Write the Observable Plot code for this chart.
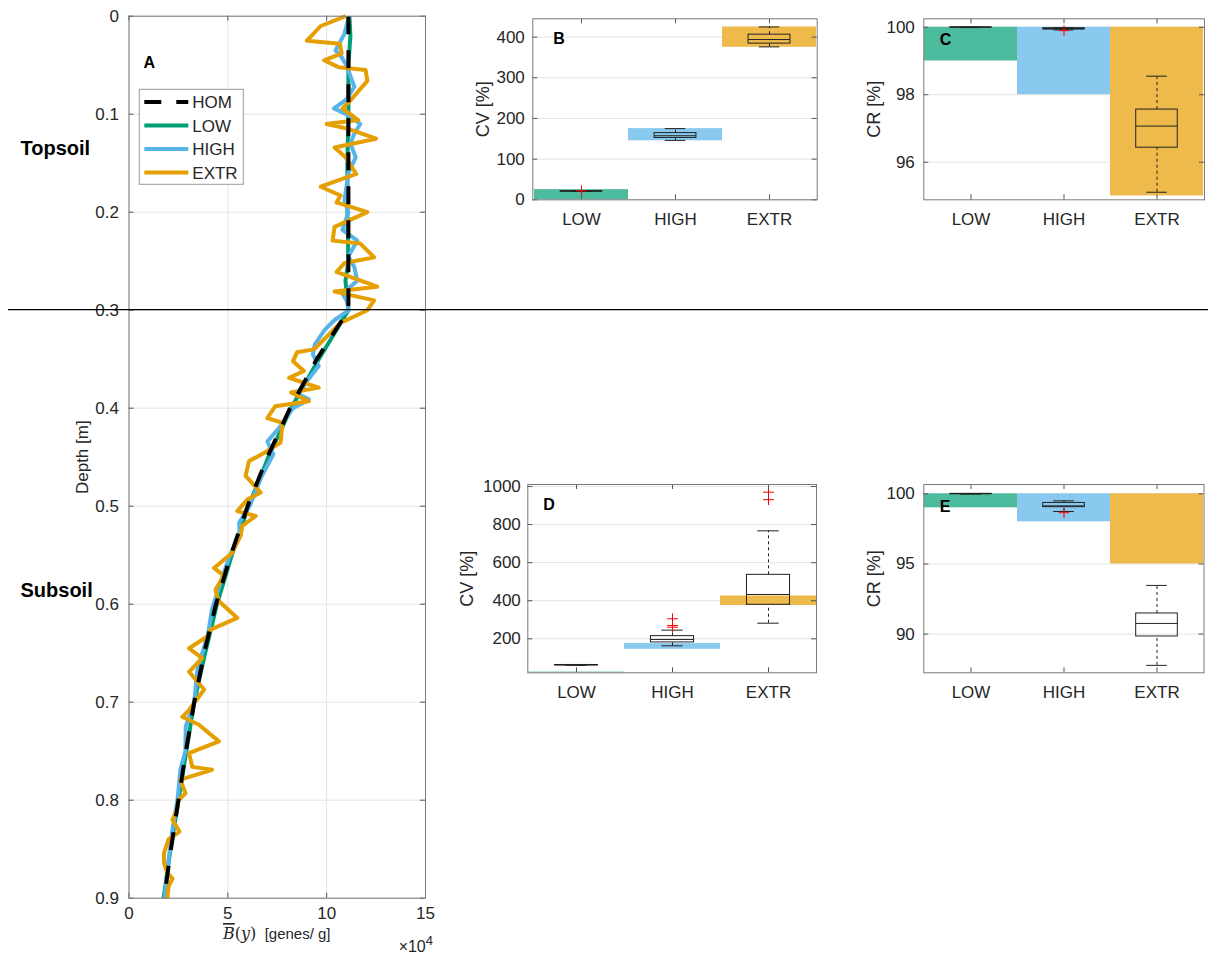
<!DOCTYPE html>
<html>
<head>
<meta charset="utf-8">
<script src="https://cdn.jsdelivr.net/npm/d3@7"></script>
<script src="https://cdn.jsdelivr.net/npm/@observablehq/plot@0.6"></script>
<style>
  body { margin: 0; background: #fff; }
  #fig { position: relative; width: 1208px; height: 956px; background: #fff; overflow: hidden;
         font-family: "Liberation Sans", Arial, Helvetica, sans-serif; }
  .panel { position: absolute; }
  .panel svg { overflow: visible; }
</style>
</head>
<body>
<div id="fig"></div>
<script>
// ---------------- DATA ----------------
const categories = ["LOW", "HIGH", "EXTR"];
const bandColors = ["#4DBB9E", "#89C9EF", "#EDBA4B"];
const lineNames = ["HOM", "LOW", "HIGH", "EXTR"];
const lineColors = ["#000000", "#009E73", "#56B4E9", "#E69F00"];
const horizonNames = ["Topsoil", "Subsoil"];
const boundaryDepth = 0.3;

const depthTicks = [0, 0.1, 0.2, 0.3, 0.4, 0.5, 0.6, 0.7, 0.8, 0.9];
const bTicks = [0, 5, 10, 15];

// mean gene abundance profiles (x 10^4 genes/g) vs depth (m)
const homDepth = [0, 0.30, 0.35, 0.40, 0.45, 0.50, 0.55, 0.60, 0.65, 0.70, 0.75, 0.80, 0.85, 0.90];
const homB     = [11.1, 11.1, 9.5, 8.15, 7.0, 6.0, 5.15, 4.4, 3.8, 3.3, 2.88, 2.5, 2.12, 1.78];

const lowDepth = [0, 0.02, 0.05, 0.10, 0.15, 0.20, 0.25, 0.27, 0.30, 0.35, 0.40, 0.45, 0.50, 0.55, 0.60, 0.65, 0.70, 0.75, 0.80, 0.85, 0.90];
const lowB     = [11.15, 11.2, 11.1, 11.1, 11.05, 11.05, 11.1, 10.95, 11.1, 9.6, 8.2, 7.05, 6.05, 5.2, 4.45, 3.85, 3.3, 2.9, 2.5, 2.1, 1.75];

const highDepth = [0, 0.018, 0.035, 0.04, 0.05, 0.072, 0.085, 0.094, 0.101, 0.11, 0.12, 0.13, 0.144, 0.16, 0.188, 0.20, 0.218, 0.229, 0.245, 0.256, 0.27, 0.283, 0.29, 0.30,
                   0.31, 0.32, 0.335, 0.345, 0.357, 0.375, 0.385, 0.391, 0.40, 0.42, 0.434, 0.447, 0.47, 0.50, 0.517, 0.53, 0.55, 0.58, 0.605, 0.63, 0.667, 0.70, 0.725, 0.75, 0.769, 0.80, 0.83, 0.861, 0.90];
const highB     = [11.13, 10.9, 10.45, 10.7, 11.0, 11.4, 11.0, 10.37, 11.1, 11.7, 11.4, 11.2, 11.47, 11.1, 10.9, 11.1, 10.8, 11.55, 11.1, 11.4, 11.55, 10.8, 11.0, 11.13,
                   10.4, 9.9, 9.4, 9.3, 9.6, 8.9, 8.5, 9.1, 8.3, 7.6, 7.0, 7.3, 6.7, 6.1, 5.57, 5.6, 5.1, 4.6, 4.2, 4.0, 3.46, 3.3, 2.87, 2.85, 2.6, 2.45, 2.2, 2.0, 1.8];

const extrDepth = [0, 0.010, 0.025, 0.028, 0.038, 0.045, 0.052, 0.055, 0.066, 0.086, 0.094, 0.106, 0.110, 0.115, 0.125, 0.134, 0.144, 0.161, 0.174, 0.183, 0.190,
                   0.200, 0.215, 0.229, 0.232, 0.246, 0.252, 0.261, 0.276, 0.281, 0.290, 0.300, 0.313,
                   0.340, 0.343, 0.352, 0.362, 0.369, 0.379, 0.384, 0.393, 0.398, 0.410, 0.415, 0.435, 0.445, 0.454, 0.469, 0.486, 0.493, 0.505, 0.510, 0.520, 0.530, 0.548, 0.563, 0.571, 0.585, 0.596, 0.614,
                   0.626, 0.633, 0.645, 0.655, 0.669, 0.687, 0.708, 0.715, 0.723, 0.740, 0.752, 0.766, 0.769, 0.779, 0.793, 0.800, 0.808, 0.820, 0.832, 0.840, 0.854, 0.864, 0.874, 0.880, 0.888, 0.900];
const extrB     = [10.96, 9.7, 9.0, 10.67, 10.76, 9.87, 10.6, 11.97, 12.06, 11.2, 10.8, 11.6, 10.0, 11.1, 12.5, 10.4, 10.96, 11.5, 9.7, 10.7, 10.5,
                   12.06, 10.4, 10.3, 11.7, 12.4, 10.9, 10.5, 12.56, 10.4, 12.4, 12.06, 10.7,
                   9.36, 8.5, 8.3, 8.85, 8.1, 9.6, 8.2, 9.1, 7.4, 7.0, 7.76, 7.67, 6.9, 6.07, 5.9, 6.66, 6.0, 5.48, 6.41, 5.73, 5.65, 5.2, 4.3, 4.8, 4.38, 4.5, 5.48,
                   4.13, 3.96, 3.04, 3.7, 3.04, 3.8, 3.04, 2.7, 3.54, 4.55, 3.04, 3.2, 4.2, 2.6, 2.86, 2.5, 2.45, 2.2, 2.55, 2.0, 1.77, 1.77, 1.94, 2.2, 2.0, 1.94];

// target ranges (shaded bands) per scenario
const cvBandLo = [0, 145, 375];
const cvBandHi = [25, 175, 425];
const crBandLo = [99, 98, 95];
const crBandHi = [100, 100, 100];

// box statistics per scenario: [lower whisker, Q1, median, Q3, upper whisker]
const topCvBox = [[20.5, 20.6, 21, 21.4, 21.5], [146, 152, 157.5, 164, 175], [376, 384, 394, 406, 425]];
const topCvOut = [["LOW", 22]];
const topCrBox = [[99.99, 99.99, 100, 100, 100], [99.92, 99.94, 99.95, 99.97, 99.98], [95.11, 96.43, 97.07, 97.56, 98.55]];
const topCrOut = [["HIGH", 99.9]];
const subCvBox = [[61, 61.5, 62, 62.5, 63], [163, 181, 196.5, 214, 245.5], [282, 378.6, 432.8, 536, 767]];
const subCvOut = [["HIGH", 305], ["HIGH", 270], ["HIGH", 261], ["EXTR", 970], ["EXTR", 931]];
const subCrBox = [[99.99, 99.99, 100, 100, 100], [98.74, 99.05, 99.14, 99.35, 99.5], [87.77, 89.83, 90.76, 91.47, 93.47]];
const subCrOut = [["HIGH", 98.65]];

const cvTicksTop = [0, 100, 200, 300, 400];
const crTicksTop = [96, 98, 100];
const cvTicksSub = [200, 400, 600, 800, 1000];
const crTicksSub = [90, 95, 100];

// ---------------- STYLE ----------------
const FONT = '"Liberation Sans", Arial, Helvetica, sans-serif';
const TEXT = "#262626";
const GRID = "#e4e4e4";
const FRAME = "#7a7a7a";
const BOXC = "#222222";
const fig = document.getElementById("fig");

function place(svg, left, top) {
  const div = document.createElement("div");
  div.className = "panel";
  div.style.left = left + "px";
  div.style.top = top + "px";
  div.appendChild(svg);
  fig.appendChild(div);
}

const baseStyle = {fontFamily: FONT, fontSize: "17px", color: TEXT, background: "none", overflow: "visible"};

// ---------------- PANEL A ----------------
const A = {left: 0, top: 0, w: 440, h: 956, fx0: 128.5, fx1: 425, fy0: 15.7, fy1: 897.7};
const aFW = A.fx1 - A.fx0, aFH = A.fy1 - A.fy0;
const series = [
  {name: "LOW",  d: lowDepth,  v: lowB},
  {name: "HIGH", d: highDepth, v: highB},
  {name: "EXTR", d: extrDepth, v: extrB},
  {name: "HOM",  d: homDepth,  v: homB}
];
const lineMarks = series.map(s => Plot.line(d3.zip(s.d, s.v), {
  x: d => d[1], y: d => d[0],
  stroke: lineColors[lineNames.indexOf(s.name)],
  strokeWidth: 4,
  strokeDasharray: s.name === "HOM" ? "18,16" : null,
  strokeLinecap: "butt"
}));

const plotA = Plot.plot({
  width: A.w, height: A.h,
  marginLeft: A.fx0 - A.left, marginRight: A.left + A.w - A.fx1,
  marginTop: A.fy0 - A.top, marginBottom: A.top + A.h - A.fy1,
  x: {domain: [0, 15]},
  y: {domain: [0, 0.9], reverse: true},
  style: baseStyle,
  marks: [
    Plot.gridX(bTicks, {stroke: GRID, strokeOpacity: 1}),
    Plot.gridY(depthTicks, {stroke: GRID, strokeOpacity: 1}),
    ...lineMarks,
    Plot.tickY(depthTicks, {y: d => d, insetRight: aFW - 5, stroke: "#555"}),
    Plot.tickY(depthTicks, {y: d => d, insetLeft: aFW - 5, stroke: "#555"}),
    Plot.tickX(bTicks, {x: d => d, insetTop: aFH - 5, stroke: "#555"}),
    Plot.tickX(bTicks, {x: d => d, insetBottom: aFH - 5, stroke: "#555"}),
    Plot.frame({stroke: FRAME}),
    Plot.axisX(bTicks, {tickSize: 0, tickPadding: 9, label: null, tickFormat: d => String(d)}),
    Plot.axisY(depthTicks, {tickSize: 0, tickPadding: 10, label: null, tickFormat: d => d === 0 ? "0" : d.toFixed(1)}),
    Plot.text(["Depth [m]"], {frameAnchor: "left", textAnchor: "middle", lineAnchor: "middle", dx: -46.5, rotate: -90, fontSize: 17, fill: TEXT}),
    Plot.text(["A"], {frameAnchor: "top-left", textAnchor: "start", lineAnchor: "top", dx: 14.5, dy: 40.5, fontWeight: "bold", fontSize: 16, fill: "#000"}),
    Plot.text([horizonNames[0]], {frameAnchor: "top-left", textAnchor: "start", lineAnchor: "top", dx: 20 - A.fx0, dy: 125, fontWeight: "bold", fontSize: 20, fill: "#000"}),
    Plot.text([horizonNames[1]], {frameAnchor: "top-left", textAnchor: "start", lineAnchor: "top", dx: 20 - A.fx0, dy: 567, fontWeight: "bold", fontSize: 20, fill: "#000"})
  ]
});
place(plotA, A.left, A.top);

{
  const svg = d3.select(plotA);
  const yB = plotA.scale("y").apply(boundaryDepth);
  // topsoil/subsoil boundary spanning the whole figure
  svg.append("line").attr("x1", 8 - A.left).attr("x2", 1208 - A.left)
    .attr("y1", yB).attr("y2", yB).attr("stroke", "#000").attr("stroke-width", 1.2);

  // x label with math
  const serif = '"DejaVu Serif", "Liberation Serif", serif';
  const xl = svg.append("text").attr("x", (A.fx0 + A.fx1) / 2 - A.left).attr("y", 939)
    .attr("text-anchor", "middle").attr("fill", TEXT);
  xl.append("tspan").attr("font-family", serif).attr("font-style", "italic")
    .attr("font-size", 16).attr("text-decoration", "overline").text("B");
  xl.append("tspan").attr("font-family", serif).attr("font-size", 16).text("(");
  xl.append("tspan").attr("font-family", serif).attr("font-style", "italic").attr("font-size", 16).text("y");
  xl.append("tspan").attr("font-family", serif).attr("font-size", 16).text(")");
  xl.append("tspan").attr("font-family", FONT).attr("font-size", 15).text("\u00a0 [genes/ g]");

  // exponent
  const ex = svg.append("text").attr("x", 433 - A.left).attr("y", 952).attr("text-anchor", "end")
    .attr("fill", TEXT).attr("font-family", FONT).attr("font-size", 16);
  ex.append("tspan").text("\u00d710");
  ex.append("tspan").attr("dy", -7).attr("font-size", 13).text("4");

  // legend
  const lg = svg.append("g");
  lg.append("rect").attr("x", 139.3).attr("y", 89.3).attr("width", 104).attr("height", 95)
    .attr("fill", "#fff").attr("stroke", "#9a9a9a").attr("stroke-width", 1);
  lineNames.forEach((n, i) => {
    const y = 102 + i * 23.5;
    lg.append("line").attr("x1", 144.3).attr("x2", 188.3).attr("y1", y).attr("y2", y)
      .attr("stroke", lineColors[i]).attr("stroke-width", 4)
      .attr("stroke-dasharray", n === "HOM" ? "17,15" : null);
    lg.append("text").attr("x", 192.3).attr("y", y).attr("dy", "0.36em").attr("text-anchor", "start")
      .attr("font-family", FONT).attr("font-size", 17).attr("fill", TEXT).text(n);
  });
}

// ---------------- BOX PANELS ----------------
function boxPanel(o) {
  const fw = o.fx1 - o.fx0, fh = o.fy1 - o.fy0;
  const bw = fw / categories.length;
  const boxInset = bw * 0.275, capInset = bw * 0.3875;
  const rows = categories.map((c, i) => ({cat: c, lo: o.box[i][0], q1: o.box[i][1], med: o.box[i][2], q3: o.box[i][3], hi: o.box[i][4]}));
  const bands = categories.map((c, i) => ({cat: c, y1: o.bandLo[i], y2: o.bandHi[i], col: bandColors[i]}));
  const outs = o.out.map(([c, v]) => ({cat: c, v}));
  const svg = Plot.plot({
    width: o.w, height: o.h,
    marginLeft: o.fx0 - o.left, marginRight: o.left + o.w - o.fx1,
    marginTop: o.fy0 - o.top, marginBottom: o.top + o.h - o.fy1,
    x: {domain: categories, padding: 0},
    y: {domain: o.yDomain},
    color: {type: "identity"},
    style: baseStyle,
    marks: [
      Plot.gridY(o.yTicks, {stroke: GRID, strokeOpacity: 1}),
      Plot.rectY(bands, {x: "cat", y1: "y1", y2: "y2", fill: "col", clip: true}),
      Plot.ruleX(rows, {x: "cat", y1: "q3", y2: "hi", stroke: BOXC, strokeWidth: 1, strokeDasharray: "3,3"}),
      Plot.ruleX(rows, {x: "cat", y1: "lo", y2: "q1", stroke: BOXC, strokeWidth: 1, strokeDasharray: "3,3"}),
      Plot.tickY(rows, {x: "cat", y: "hi", stroke: BOXC, insetLeft: capInset, insetRight: capInset}),
      Plot.tickY(rows, {x: "cat", y: "lo", stroke: BOXC, insetLeft: capInset, insetRight: capInset}),
      Plot.rectY(rows, {x: "cat", y1: "q1", y2: "q3", fill: "none", stroke: BOXC, strokeWidth: 1, insetLeft: boxInset, insetRight: boxInset}),
      Plot.tickY(rows, {x: "cat", y: "med", stroke: BOXC, strokeWidth: 1, insetLeft: boxInset, insetRight: boxInset}),
      Plot.dot(outs, {x: "cat", y: "v", symbol: "plus", r: 3.6, stroke: "#ff0000", strokeWidth: 1}),
      Plot.tickY(o.yTicks, {y: d => d, insetRight: fw - 5, stroke: "#555"}),
      Plot.tickY(o.yTicks, {y: d => d, insetLeft: fw - 5, stroke: "#555"}),
      Plot.tickX(categories, {x: d => d, insetTop: fh - 5, stroke: "#555"}),
      Plot.tickX(categories, {x: d => d, insetBottom: fh - 5, stroke: "#555"}),
      Plot.frame({stroke: FRAME}),
      Plot.axisX({tickSize: 0, tickPadding: 13, label: null}),
      Plot.axisY(o.yTicks, {tickSize: 0, tickPadding: o.tickPad, label: null, tickFormat: d => String(d)}),
      Plot.text([o.ylabel], {frameAnchor: "left", textAnchor: "middle", lineAnchor: "middle", dx: -o.labelOffset, rotate: -90, fontSize: 18, fill: TEXT}),
      Plot.text([o.letter], {frameAnchor: "top-left", textAnchor: "start", lineAnchor: "top", dx: o.ldx, dy: o.ldy, fontWeight: "bold", fontSize: 16, fill: "#000"})
    ]
  });
  place(svg, o.left, o.top);
}

boxPanel({left: 440, top: 0, w: 390, h: 240, fx0: 532.3, fx1: 816.7, fy0: 18.3, fy1: 199.3,
  yDomain: [0, 445], yTicks: cvTicksTop, bandLo: cvBandLo, bandHi: cvBandHi, box: topCvBox, out: topCvOut,
  ylabel: "CV [%]", labelOffset: 49.5, tickPad: 8, letter: "B", ldx: 20.5, ldy: 13.5});

boxPanel({left: 840, top: 0, w: 368, h: 240, fx0: 923.3, fx1: 1204, fy0: 18.3, fy1: 199.3,
  yDomain: [94.886, 100.25], yTicks: crTicksTop, bandLo: crBandLo, bandHi: crBandHi, box: topCrBox, out: topCrOut,
  ylabel: "CR [%]", labelOffset: 50, tickPad: 9, letter: "C", ldx: 16, ldy: 14.4});

boxPanel({left: 420, top: 460, w: 410, h: 250, fx0: 527.3, fx1: 816, fy0: 484, fy1: 672.3,
  yDomain: [21.4, 1010.5], yTicks: cvTicksSub, bandLo: cvBandLo, bandHi: cvBandHi, box: subCvBox, out: subCvOut,
  ylabel: "CV [%]", labelOffset: 61, tickPad: 7, letter: "D", ldx: 15.4, ldy: 14.3});

boxPanel({left: 840, top: 460, w: 368, h: 250, fx0: 923.3, fx1: 1203.5, fy0: 484, fy1: 672.3,
  yDomain: [87.24, 100.665], yTicks: crTicksSub, bandLo: crBandLo, bandHi: crBandHi, box: subCrBox, out: subCrOut,
  ylabel: "CR [%]", labelOffset: 50, tickPad: 9, letter: "E", ldx: 16, ldy: 16});
</script>
</body>
</html>
